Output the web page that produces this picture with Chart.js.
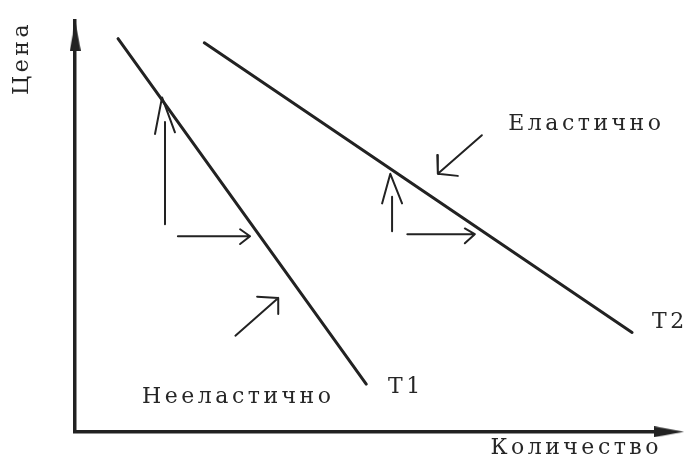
<!DOCTYPE html>
<html>
<head>
  <meta charset="utf-8">
  <title>Еластичност на търсенето</title>
  <script src="https://cdn.jsdelivr.net/npm/chart.js"></script>
  <style>
    html, body { margin: 0; padding: 0; background: #fff; }
    .wrap { width: 686px; height: 466px; }
  </style>
</head>
<body>
  <div class="wrap"><canvas id="demandChart"></canvas></div>
  <script>
    // крива T1 (нееластично търсене)
    const t1Qty = [7.3, 49.6];
    const t1Price = [95.7, 11.6];
    // крива T2 (еластично търсене)
    const t2Qty = [22.0, 94.9];
    const t2Price = [94.7, 24.2];

    // малки стрелки: стъбло, null = прекъсване, после върхът
    const upArrow1Qty = [15.3, 15.3, null, 13.6, 14.8, 17.0];
    const upArrow1Price = [50.5, 75.4, null, 72.5, 81.4, 72.9];
    const rightArrow1Qty = [17.5, 29.8, null, 28.1, 29.8, 28.1];
    const rightArrow1Price = [47.6, 47.6, null, 49.3, 47.6, 45.7];
    const diagArrow1Qty = [27.3, 34.6, null, 31.0, 34.6, 34.6];
    const diagArrow1Price = [23.4, 32.6, null, 32.9, 32.6, 28.7];

    const upArrow2Qty = [54.0, 54.0, null, 52.3, 53.7, 55.7];
    const upArrow2Price = [48.8, 57.2, null, 55.6, 62.8, 55.6];
    const rightArrow2Qty = [56.6, 68.1, null, 66.4, 68.1, 66.4];
    const rightArrow2Price = [48.1, 48.1, null, 49.5, 48.1, 45.9];
    const diagArrow2Qty = [69.3, 61.8, null, 61.7, 61.8, 65.2];
    const diagArrow2Price = [72.2, 62.8, null, 67.4, 62.8, 62.3];

    // върхове на осите
    const axisTipQty = [0, 101.2];
    const axisTipPrice = [96.4, 0];

    // надписи
    const labelText = ['Еластично', 'Нееластично', 'T1', 'T2'];
    const labelQty = [73.8, 11.4, 53.3, 98.3];
    const labelPrice = [74.9, 8.5, 10.9, 26.6];

    const ink = '#222';
    const textColor = '#262626';
    const serif = 'DejaVu Serif';

    function toPoints(qs, ps) {
      return qs.map((q, i) => (q === null ? { x: null, y: null } : { x: q, y: ps[i] }));
    }

    function lineSet(qs, ps, width) {
      return {
        data: toPoints(qs, ps),
        showLine: true,
        borderColor: ink,
        borderWidth: width,
        borderCapStyle: 'round',
        borderJoinStyle: 'round',
        pointRadius: 0,
        spanGaps: false
      };
    }

    // узък триъгълник за стрелките на осите
    function arrowHead(w, h) {
      const c = document.createElement('canvas');
      c.width = w;
      c.height = h;
      const g = c.getContext('2d');
      g.fillStyle = ink;
      g.beginPath();
      g.moveTo(w / 2, 0);
      g.lineTo(w, h);
      g.lineTo(0, h);
      g.closePath();
      g.fill();
      return c;
    }
    const head = arrowHead(11, 30);

    const labelPlugin = {
      id: 'curveLabels',
      beforeDraw(chart) {
        chart.ctx.letterSpacing = '3.5px';
      },
      afterDatasetsDraw(chart) {
        const { ctx, scales: { x, y } } = chart;
        ctx.save();
        ctx.font = '22px "' + serif + '"';
        ctx.fillStyle = textColor;
        ctx.textBaseline = 'middle';
        ctx.textAlign = 'left';
        ctx.letterSpacing = '3.5px';
        labelText.forEach((t, i) => {
          ctx.fillText(t, x.getPixelForValue(labelQty[i]), y.getPixelForValue(labelPrice[i]));
        });
        ctx.restore();
      }
    };

    const axisStyle = (titleText, pad) => ({
      type: 'linear',
      min: 0,
      max: 100,
      grid: { display: false, drawTicks: false },
      ticks: { display: false },
      border: { display: true, color: ink, width: 3.5 },
      title: {
        display: true,
        text: titleText,
        align: 'end',
        color: textColor,
        font: { family: serif, size: 22, lineHeight: 1.1 },
        padding: pad
      }
    });

    new Chart(document.getElementById('demandChart'), {
      type: 'scatter',
      data: {
        datasets: [
          lineSet(t1Qty, t1Price, 3),
          lineSet(t2Qty, t2Price, 3),
          lineSet(upArrow1Qty, upArrow1Price, 2),
          lineSet(rightArrow1Qty, rightArrow1Price, 2),
          lineSet(diagArrow1Qty, diagArrow1Price, 2),
          lineSet(upArrow2Qty, upArrow2Price, 2),
          lineSet(rightArrow2Qty, rightArrow2Price, 2),
          lineSet(diagArrow2Qty, diagArrow2Price, 2),
          {
            data: toPoints(axisTipQty, axisTipPrice),
            pointStyle: head,
            pointRadius: 20,
            rotation: [0, 90],
            showLine: false,
            clip: false
          }
        ]
      },
      options: {
        responsive: true,
        maintainAspectRatio: false,
        animation: false,
        layout: { padding: { top: 18, right: 24, bottom: 0, left: 0 } },
        scales: {
          x: Object.assign(axisStyle('Количество', { top: 4, bottom: 6 }), { position: 'bottom' }),
          y: Object.assign(axisStyle('Цена', { top: 10, bottom: 41 }), { position: 'left' })
        },
        plugins: {
          legend: { display: false },
          tooltip: { enabled: false }
        }
      },
      plugins: [labelPlugin]
    });
  </script>
</body>
</html>
